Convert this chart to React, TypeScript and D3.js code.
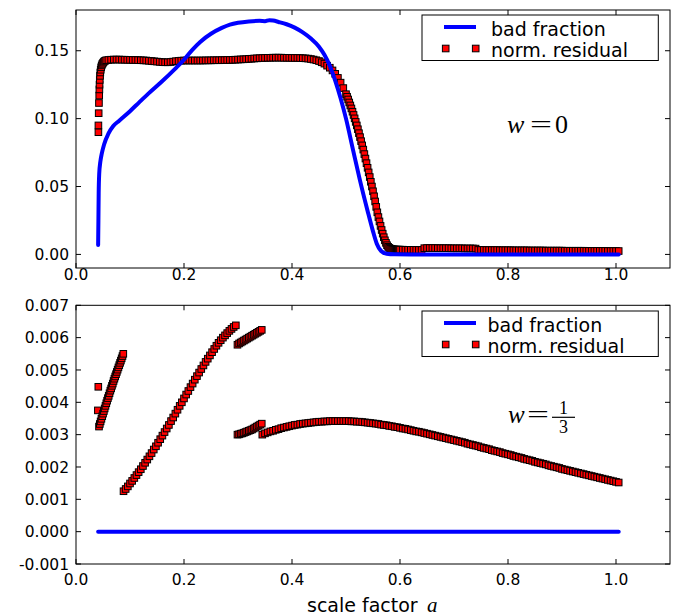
import React from "react";
import * as d3 from "d3";

// ---- tick values and labels ----
const xTicks = [0, 0.2, 0.4, 0.6, 0.8, 1.0];
const xTickLabels = ["0.0", "0.2", "0.4", "0.6", "0.8", "1.0"];
const topYTicks = [0, 0.05, 0.1, 0.15];
const topYTickLabels = ["0.00", "0.05", "0.10", "0.15"];
const bottomYTicks = [-0.001, 0, 0.001, 0.002, 0.003, 0.004, 0.005, 0.006, 0.007];
const bottomYTickLabels = ["-0.001", "0.000", "0.001", "0.002", "0.003", "0.004", "0.005", "0.006", "0.007"];
const legendLabels = ["bad fraction", "norm. residual"];

// ---- w = 0 panel ----
// bad fraction as (a, value)
const topBadFraction: [number, number][] = [
  [0.041, 0.007], [0.0415, 0.025], [0.042, 0.045], [0.043, 0.0595], [0.045, 0.068],
  [0.0476, 0.074], [0.052, 0.081], [0.06, 0.0889], [0.069, 0.0945], [0.08, 0.0985],
  [0.1, 0.1055], [0.117, 0.112], [0.134, 0.1184], [0.16, 0.1277], [0.183, 0.1365],
  [0.198, 0.1425], [0.215, 0.1505], [0.23, 0.1565], [0.25, 0.1625], [0.27, 0.1668],
  [0.285, 0.1692], [0.3, 0.1706], [0.32, 0.1716], [0.34, 0.172], [0.35, 0.1718],
  [0.358, 0.1725], [0.365, 0.1722], [0.375, 0.1712], [0.39, 0.1695], [0.405, 0.167],
  [0.42, 0.1635], [0.435, 0.159], [0.45, 0.153], [0.46, 0.147], [0.47, 0.139],
  [0.48, 0.128], [0.49, 0.115], [0.5, 0.1], [0.513, 0.077], [0.525, 0.056],
  [0.54, 0.032], [0.55, 0.017], [0.557, 0.0079], [0.565, 0.0025], [0.575, 0.0005],
  [0.59, 0.0001], [0.62, 0], [0.7, 0], [0.8, 0], [0.9, 0], [1.005, 0],
];
// norm. residual: first column near a = 0.04
const topResidualStart: [number, number][] = [
  [0.0415, 0.09], [0.0415, 0.095], [0.042, 0.104], [0.0425, 0.1115], [0.043, 0.117],
  [0.0433, 0.1215], [0.0436, 0.125], [0.044, 0.1285], [0.0445, 0.1315], [0.045, 0.134],
  [0.0458, 0.136], [0.0466, 0.1378], [0.0476, 0.1392], [0.0488, 0.1403], [0.0502, 0.1412],
  [0.0518, 0.142], [0.0538, 0.1426], [0.056, 0.143],
];
// a = 0.060, 0.065, ...
const topResidualPlateau = [
  0.1432, 0.1434, 0.1435, 0.1435, 0.1435, 0.1434, 0.1434, 0.1433, 0.1433, 0.1432,
  0.1432, 0.1431, 0.143, 0.1429, 0.1428, 0.1426, 0.1424, 0.1422, 0.142, 0.1418,
  0.1416, 0.1415, 0.1415, 0.1417, 0.142, 0.1423, 0.1425, 0.1427, 0.1428, 0.1428,
  0.1428, 0.1428, 0.1428, 0.1428, 0.1428, 0.1428, 0.1429, 0.1429, 0.1429, 0.143,
  0.143, 0.143, 0.1431, 0.1431, 0.1432, 0.1432, 0.1433, 0.1434, 0.1435, 0.1436,
  0.1437, 0.1438, 0.144, 0.1441, 0.1443, 0.1444, 0.1445, 0.1446, 0.1447, 0.1448,
  0.1448, 0.1449, 0.1449, 0.1449, 0.1449, 0.1448, 0.1448, 0.1448, 0.1447, 0.1447,
  0.1447, 0.1446, 0.1445, 0.1444, 0.1442, 0.1439, 0.1435, 0.143, 0.1424, 0.1415,
  0.1405, 0.139, 0.1375, 0.1355, 0.133, 0.13, 0.1265, 0.1225,
];
// a = 0.500, 0.502, ...
const topResidualDrop = [
  0.118, 0.1161, 0.1141, 0.1119, 0.1097, 0.1075, 0.1051, 0.1027, 0.1002, 0.0976,
  0.095, 0.0922, 0.0893, 0.0864, 0.0834, 0.0803, 0.0772, 0.0739, 0.0706, 0.0672,
  0.0638, 0.0604, 0.057, 0.0535, 0.05, 0.0465, 0.0428, 0.039, 0.035, 0.031,
  0.0275, 0.0243, 0.021, 0.018, 0.0153, 0.0127, 0.0104, 0.0085, 0.0068, 0.0056,
  0.0048, 0.0043, 0.004, 0.0038, 0.0037, 0.0036, 0.0036, 0.0035, 0.0035, 0.0035,
];
// a = 0.600, 0.605, ...
const topResidualTail = [
  0.0035, 0.0035, 0.0034, 0.0034, 0.0034, 0.0034, 0.0033, 0.0033, 0.0033,
  0.0046, 0.0047, 0.0047, 0.0047, 0.0047, 0.0046, 0.0046, 0.0046, 0.0046, 0.0046,
  0.0045, 0.0045, 0.0045, 0.0045, 0.0045, 0.0044, 0.0044, 0.0044, 0.0044, 0.0043,
  0.0033, 0.0033, 0.0033, 0.0032, 0.0032, 0.0032, 0.0032, 0.0032, 0.0031, 0.0031,
  0.0031, 0.0031, 0.0031, 0.003, 0.003, 0.003, 0.003, 0.003, 0.003, 0.0029,
  0.0029, 0.0029, 0.0029, 0.0029, 0.0029, 0.0028, 0.0028, 0.0028, 0.0028, 0.0028,
  0.0028, 0.0028, 0.0027, 0.0027, 0.0027, 0.0027, 0.0027, 0.0027, 0.0027, 0.0027,
  0.0026, 0.0026, 0.0026, 0.0026, 0.0026, 0.0026, 0.0026, 0.0026, 0.0025, 0.0025,
  0.0025, 0.0025, 0.0025,
];

// ---- w = 1/3 panel ----
const bottomBadFraction: [number, number][] = [[0.041, 0], [0.5, 0], [1.005, 0]];
const bottomResidualOutliers: [number, number][] = [[0.0405, 0.00375], [0.0413, 0.00448]];
// a = 0.0426, 0.0441, ...
const bottomResidualFirst = [
  0.00325, 0.00333, 0.00341, 0.00349, 0.00357, 0.00365, 0.00373, 0.00381, 0.00389, 0.00397,
  0.00405, 0.00413, 0.0042, 0.00428, 0.00436, 0.00443, 0.00451, 0.00458, 0.00466, 0.00473,
  0.0048, 0.00487, 0.00494, 0.00501, 0.00508, 0.00515, 0.00522, 0.00529, 0.00536, 0.00543,
  0.0055,
];
// a = 0.088, 0.092, ...
const bottomResidualSecond = [
  0.00125, 0.00132, 0.0014, 0.00149, 0.00157, 0.00166, 0.00175, 0.00184, 0.00193, 0.00203,
  0.00213, 0.00223, 0.00233, 0.00243, 0.00254, 0.00264, 0.00275, 0.00286, 0.00297, 0.00308,
  0.00319, 0.0033, 0.00342, 0.00353, 0.00365, 0.00377, 0.00389, 0.004, 0.00412, 0.00424,
  0.00435, 0.00447, 0.00458, 0.0047, 0.00481, 0.00492, 0.00503, 0.00514, 0.00525, 0.00535,
  0.00545, 0.00555, 0.00565, 0.00575, 0.00584, 0.00592, 0.006, 0.00607, 0.00614, 0.00621,
  0.00627, 0.00633, 0.00638,
];
// a = 0.299, 0.302, ...
const bottomResidualUpper = [
  0.00578, 0.00582, 0.00585, 0.00588, 0.00591, 0.00594, 0.00597, 0.006, 0.00603, 0.00606,
  0.00609, 0.00612, 0.00615, 0.00618, 0.00621, 0.00624,
];
const bottomResidualLower = [
  0.003, 0.00301, 0.00303, 0.00304, 0.00306, 0.00308, 0.0031, 0.00312, 0.00314, 0.00316,
  0.00319, 0.00322, 0.00325, 0.00328, 0.00331, 0.00334,
];
// a = 0.345, 0.350, ...
const bottomResidualTail = [
  0.003, 0.00304, 0.00307, 0.0031, 0.00312, 0.00315, 0.00317, 0.0032, 0.00322, 0.00324,
  0.00326, 0.00328, 0.0033, 0.00331, 0.00333, 0.00334, 0.00335, 0.00336, 0.00337, 0.00338,
  0.00339, 0.0034, 0.0034, 0.00341, 0.00341, 0.00342, 0.00342, 0.00342, 0.00342, 0.00342,
  0.00342, 0.00342, 0.00342, 0.00341, 0.00341, 0.0034, 0.0034, 0.00339, 0.00338, 0.00337,
  0.00336, 0.00335, 0.00334, 0.00333, 0.00331, 0.0033, 0.00329, 0.00327, 0.00326, 0.00324,
  0.00323, 0.00321, 0.00319, 0.00318, 0.00316, 0.00314, 0.00312, 0.0031, 0.00309, 0.00307,
  0.00305, 0.00303, 0.00301, 0.00299, 0.00297, 0.00295, 0.00293, 0.00291, 0.00289, 0.00287,
  0.00285, 0.00283, 0.00281, 0.00279, 0.00277, 0.00275, 0.00272, 0.0027, 0.00268, 0.00266,
  0.00264, 0.00261, 0.00259, 0.00257, 0.00255, 0.00252, 0.0025, 0.00248, 0.00246, 0.00243,
  0.00241, 0.00239, 0.00237, 0.00234, 0.00232, 0.0023, 0.00228, 0.00225, 0.00223, 0.00221,
  0.00219, 0.00216, 0.00214, 0.00212, 0.0021, 0.00208, 0.00205, 0.00203, 0.00201, 0.00199,
  0.00197, 0.00194, 0.00192, 0.0019, 0.00188, 0.00186, 0.00184, 0.00182, 0.0018, 0.00178,
  0.00176, 0.00174, 0.00172, 0.0017, 0.00168, 0.00166, 0.00164, 0.00162, 0.0016, 0.00158,
  0.00156, 0.00154, 0.00152,
];

// values that sit on an even a-grid
const onGrid = (start: number, step: number, values: number[]): [number, number][] =>
  values.map((v, i) => [start + i * step, v]);

const topResidual = [
  ...topResidualStart,
  ...onGrid(0.06, 0.005, topResidualPlateau),
  ...onGrid(0.5, 0.002, topResidualDrop),
  ...onGrid(0.6, 0.005, topResidualTail),
];
const bottomResidual = [
  ...bottomResidualOutliers,
  ...onGrid(0.0426, 0.0015, bottomResidualFirst),
  ...onGrid(0.088, 0.004, bottomResidualSecond),
  ...onGrid(0.299, 0.003, bottomResidualUpper),
  ...onGrid(0.299, 0.003, bottomResidualLower),
  ...onGrid(0.345, 0.005, bottomResidualTail),
];

const SANS = "DejaVu Sans";
const SERIF = "Liberation Serif";
const BLUE = "#0000ff";
const TICK = 5;
const MARK = 6.6;

const x = d3.scaleLinear().domain([0, 1.1]).range([76, 670]);

type PanelProps = {
  y: d3.ScaleLinear<number, number>;
  top: number;
  bottom: number;
  yTicks: number[];
  yTickLabels: string[];
  bad: [number, number][];
  residual: [number, number][];
  legendTop: number;
  legendTextX: number;
  xLabelBaseline: number;
};

const Marker = ({ cx, cy }: { cx: number; cy: number }) => (
  <rect
    x={cx - MARK / 2}
    y={cy - MARK / 2}
    width={MARK}
    height={MARK}
    fill="#ff0000"
    stroke="#000"
    strokeWidth={1}
  />
);

const Panel = ({ y, top, bottom, yTicks, yTickLabels, bad, residual, legendTop, legendTextX, xLabelBaseline }: PanelProps) => {
  const line = d3
    .line<[number, number]>()
    .x((d) => x(d[0]))
    .y((d) => y(d[1]))
    .curve(d3.curveMonotoneX);
  const left = x.range()[0];
  const right = x.range()[1];
  return (
    <g>
      {residual.map((d, i) => (
        <Marker key={i} cx={x(d[0])} cy={y(d[1])} />
      ))}
      <path d={line(bad) ?? ""} fill="none" stroke={BLUE} strokeWidth={4} strokeLinecap="round" />

      <rect x={left} y={top} width={right - left} height={bottom - top} fill="none" stroke="#000" strokeWidth={1} />
      {xTicks.map((t, i) => (
        <g key={"x" + i}>
          <line x1={x(t)} x2={x(t)} y1={bottom} y2={bottom - TICK} stroke="#000" />
          <line x1={x(t)} x2={x(t)} y1={top} y2={top + TICK} stroke="#000" />
          <text x={x(t)} y={xLabelBaseline} textAnchor="middle" fontFamily={SANS} fontSize={15.5} fill="#000">
            {xTickLabels[i]}
          </text>
        </g>
      ))}
      {yTicks.map((t, i) => (
        <g key={"y" + i}>
          <line x1={left} x2={left + TICK} y1={y(t)} y2={y(t)} stroke="#000" />
          <line x1={right} x2={right - TICK} y1={y(t)} y2={y(t)} stroke="#000" />
          <text x={69} y={y(t) + 5.6} textAnchor="end" fontFamily={SANS} fontSize={15.5} fill="#000">
            {yTickLabels[i]}
          </text>
        </g>
      ))}

      {/* legend */}
      <rect x={422} y={legendTop} width={236.3} height={45.5} fill="#fff" stroke="#000" strokeWidth={1} />
      <line x1={444} x2={476} y1={legendTop + 12} y2={legendTop + 12} stroke={BLUE} strokeWidth={4} />
      <Marker cx={445.7} cy={legendTop + 33.5} />
      <Marker cx={475.7} cy={legendTop + 33.5} />
      <text x={legendTextX} y={legendTop + 20.5} fontFamily={SANS} fontSize={19} fill="#000">
        {legendLabels[0]}
      </text>
      <text x={legendTextX} y={legendTop + 41.5} fontFamily={SANS} fontSize={19} fill="#000">
        {legendLabels[1]}
      </text>
    </g>
  );
};

export default function App() {
  const yTop = d3.scaleLinear().domain([-0.01, 0.18]).range([268, 10]);
  const yBottom = d3.scaleLinear().domain([-0.001, 0.007]).range([564, 305.3]);
  return (
    <svg
      width={681}
      height={615}
      viewBox="0 0 681 615"
      style={{ position: "absolute", left: 0, top: 0, display: "block", background: "#fff" }}
    >
      <rect width={681} height={615} fill="#fff" />
      <Panel
        y={yTop}
        top={10}
        bottom={268}
        yTicks={topYTicks}
        yTickLabels={topYTickLabels}
        bad={topBadFraction}
        residual={topResidual}
        legendTop={15}
        legendTextX={491}
        xLabelBaseline={280}
      />
      <Panel
        y={yBottom}
        top={305.3}
        bottom={564}
        yTicks={bottomYTicks}
        yTickLabels={bottomYTickLabels}
        bad={bottomBadFraction}
        residual={bottomResidual}
        legendTop={311}
        legendTextX={487.5}
        xLabelBaseline={585}
      />

      {/* w = 0 */}
      <g fontFamily={SERIF} fontSize={26} fill="#000">
        <text x={507} y={133} fontStyle="italic">w</text>
        <text x={530} y={133} textLength={22} lengthAdjust="spacingAndGlyphs">=</text>
        <text x={555} y={133}>0</text>
      </g>
      {/* w = 1/3 */}
      <g fontFamily={SERIF} fill="#000">
        <text x={508} y={423} fontSize={25} fontStyle="italic">w</text>
        <text x={527} y={423} fontSize={25} textLength={22} lengthAdjust="spacingAndGlyphs">=</text>
        <line x1={552} x2={575} y1={417.3} y2={417.3} stroke="#000" strokeWidth={1.2} />
        <text x={563.5} y={414} fontSize={18} textAnchor="middle">1</text>
        <text x={563.5} y={433} fontSize={18} textAnchor="middle">3</text>
      </g>

      {/* x axis label */}
      <text x={307} y={611.5} fontFamily={SANS} fontSize={19} fill="#000">
        scale factor
      </text>
      <text x={427} y={611.5} fontFamily={SERIF} fontStyle="italic" fontSize={21} fill="#000">
        a
      </text>
    </svg>
  );
}
